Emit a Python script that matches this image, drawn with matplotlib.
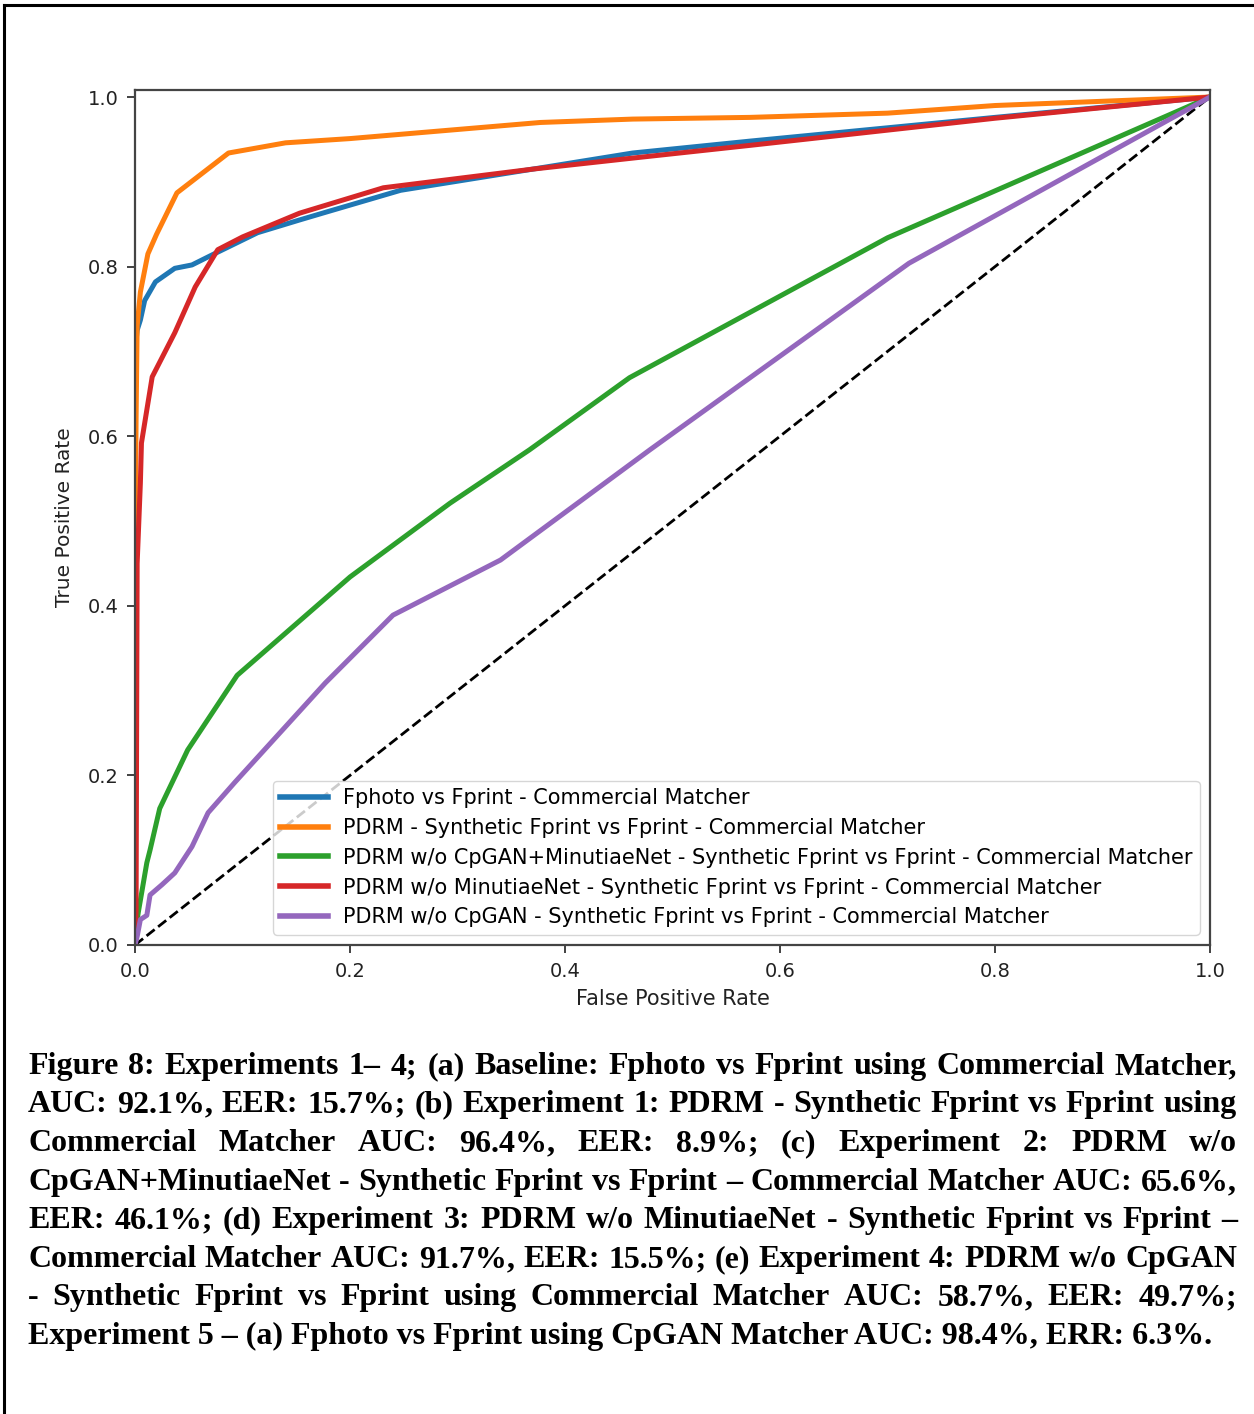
import matplotlib
matplotlib.use("Agg")
import matplotlib.pyplot as plt
from matplotlib.lines import Line2D

# ---------------- data ----------------
blue_fpr = [0, 0.0, 0.002, 0.005, 0.009, 0.019, 0.037, 0.053, 0.072, 0.114, 0.153, 0.177, 0.247, 0.37, 0.463, 0.572, 0.8, 1.0]
blue_tpr = [0, 0.70, 0.725, 0.737, 0.76, 0.782, 0.798, 0.802, 0.814, 0.840, 0.855, 0.864, 0.89, 0.915, 0.934, 0.948, 0.976, 1.0]

orange_fpr = [0, 0.0, 0.001, 0.002, 0.005, 0.012, 0.02, 0.039, 0.087, 0.14, 0.2, 0.377, 0.463, 0.572, 0.7, 0.8, 0.9, 1.0]
orange_tpr = [0, 0.45, 0.62, 0.73, 0.77, 0.815, 0.838, 0.887, 0.934, 0.946, 0.951, 0.970, 0.974, 0.976, 0.981, 0.99, 0.995, 1.0]

green_fpr = [0, 0.001, 0.003, 0.011, 0.014, 0.023, 0.049, 0.095, 0.2, 0.293, 0.367, 0.46, 0.7, 1.0]
green_tpr = [0, 0.02, 0.038, 0.097, 0.112, 0.161, 0.23, 0.318, 0.434, 0.521, 0.584, 0.669, 0.834, 1.0]

red_fpr = [0, 0.001, 0.002, 0.005, 0.006, 0.016, 0.037, 0.056, 0.077, 0.1, 0.153, 0.231, 0.37, 0.463, 0.572, 0.8, 1.0]
red_tpr = [0, 0.04, 0.45, 0.545, 0.592, 0.67, 0.722, 0.776, 0.82, 0.835, 0.863, 0.893, 0.915, 0.928, 0.943, 0.975, 1.0]

purple_fpr = [0, 0.002, 0.005, 0.011, 0.014, 0.025, 0.037, 0.053, 0.068, 0.093, 0.177, 0.24, 0.34, 0.479, 0.72, 1.0]
purple_tpr = [0, 0.01, 0.03, 0.035, 0.059, 0.071, 0.085, 0.116, 0.156, 0.192, 0.309, 0.389, 0.454, 0.584, 0.804, 1.0]

labels = [
    "Fphoto vs Fprint - Commercial Matcher",
    "PDRM - Synthetic Fprint vs Fprint - Commercial Matcher",
    "PDRM w/o CpGAN+MinutiaeNet - Synthetic Fprint vs Fprint - Commercial Matcher",
    "PDRM w/o MinutiaeNet - Synthetic Fprint vs Fprint - Commercial Matcher",
    "PDRM w/o CpGAN - Synthetic Fprint vs Fprint - Commercial Matcher",
]
colors = ["#1f77b4", "#ff7f0e", "#2ca02c", "#d62728", "#9467bd"]

xticks = [0.0, 0.2, 0.4, 0.6, 0.8, 1.0]
yticks = [0.0, 0.2, 0.4, 0.6, 0.8, 1.0]

caption_lines = [
    "Figure 8: Experiments 1\u2013 4;  (a) Baseline: Fphoto vs Fprint using Commercial Matcher,",
    "AUC: 92.1%, EER: 15.7%; (b) Experiment 1: PDRM - Synthetic Fprint vs Fprint using",
    "Commercial Matcher AUC: 96.4%, EER: 8.9%; (c) Experiment 2: PDRM w/o",
    "CpGAN+MinutiaeNet - Synthetic Fprint vs Fprint \u2013 Commercial Matcher AUC: 65.6%,",
    "EER: 46.1%; (d) Experiment 3: PDRM w/o MinutiaeNet - Synthetic Fprint vs Fprint \u2013",
    "Commercial Matcher AUC: 91.7%, EER: 15.5%; (e) Experiment 4: PDRM w/o CpGAN",
    "- Synthetic Fprint vs Fprint using Commercial Matcher AUC: 58.7%, EER: 49.7%;",
    "Experiment 5 \u2013 (a) Fphoto vs Fprint using CpGAN Matcher AUC: 98.4%, ERR: 6.3%.",
]

# ---------------- figure ----------------
W, H = 1254, 1414
fig = plt.figure(figsize=(W / 100, H / 100), dpi=100)

def fx(px):
    return px / W

def fy(py):
    return 1 - py / H

ax = fig.add_axes([fx(135), fy(945), fx(1210) - fx(135), fy(90) - fy(945)])

ax.plot([0, 1], [0, 1], color="black", linestyle="--", lw=2)
series = [(blue_fpr, blue_tpr), (orange_fpr, orange_tpr), (green_fpr, green_tpr),
          (red_fpr, red_tpr), (purple_fpr, purple_tpr)]
for (xs, ys), c, lab in zip(series, colors, labels):
    ax.plot(xs, ys, color=c, lw=3.6, label=lab, solid_joinstyle="round")

ax.set_xlim(0, 1)
ax.set_ylim(0, 1.0083)
ax.set_xticks(xticks)
ax.set_yticks(yticks)
ax.set_xticklabels([f"{v:.1f}" for v in xticks])
ax.set_yticklabels([f"{v:.1f}" for v in yticks])
ax.tick_params(labelsize=14, length=6, width=1.3, color="#333333", labelcolor="#222222", pad=6)
for s in ax.spines.values():
    s.set_linewidth(1.6)
    s.set_color("#444444")
ax.set_xlabel("False Positive Rate", fontsize=15, color="#222222", labelpad=6)
ax.set_ylabel("True Positive Rate", fontsize=14.5, color="#222222", labelpad=10)

leg = ax.legend(loc="lower right", fontsize=15, handlelength=2.3, handletextpad=0.7,
                framealpha=0.8, borderaxespad=0.5, labelspacing=0.47, borderpad=0.35)
leg.get_frame().set_edgecolor("#cccccc")
for line in leg.get_lines():
    line.set_linewidth(4)

# ---------------- border frame ----------------
fig.add_artist(Line2D([fx(3.5), fx(3.5)], [0, fy(5)], transform=fig.transFigure, color="black", lw=2.2))
fig.add_artist(Line2D([fx(3.5), 1.0], [fy(5), fy(5)], transform=fig.transFigure, color="black", lw=2.2))

# ---------------- justified caption ----------------
renderer = fig.canvas.get_renderer()
cap_font = dict(family="Liberation Serif", weight="bold")

probe = fig.text(0, 0, caption_lines[-1], fontsize=20, **cap_font)
w20 = probe.get_window_extent(renderer).width
probe.remove()
cap_size = 20 * (1213 - 28) / w20

x0, x1 = 28, 1237
baselines = [1074, 1112, 1151, 1190, 1228, 1267, 1305, 1344]
for i, (line, yb) in enumerate(zip(caption_lines, baselines)):
    if i == len(caption_lines) - 1:
        fig.text(fx(x0), fy(yb), line, fontsize=cap_size, va="baseline", ha="left", **cap_font)
        continue
    words = line.split()
    texts = [fig.text(0, fy(yb), w, fontsize=cap_size, va="baseline", ha="left", **cap_font) for w in words]
    widths = [t.get_window_extent(renderer).width for t in texts]
    gap = (x1 - x0 - sum(widths)) / (len(words) - 1)
    x = x0
    for t, w in zip(texts, widths):
        t.set_x(fx(x))
        x += w + gap

fig.savefig("out.png", dpi=100)
